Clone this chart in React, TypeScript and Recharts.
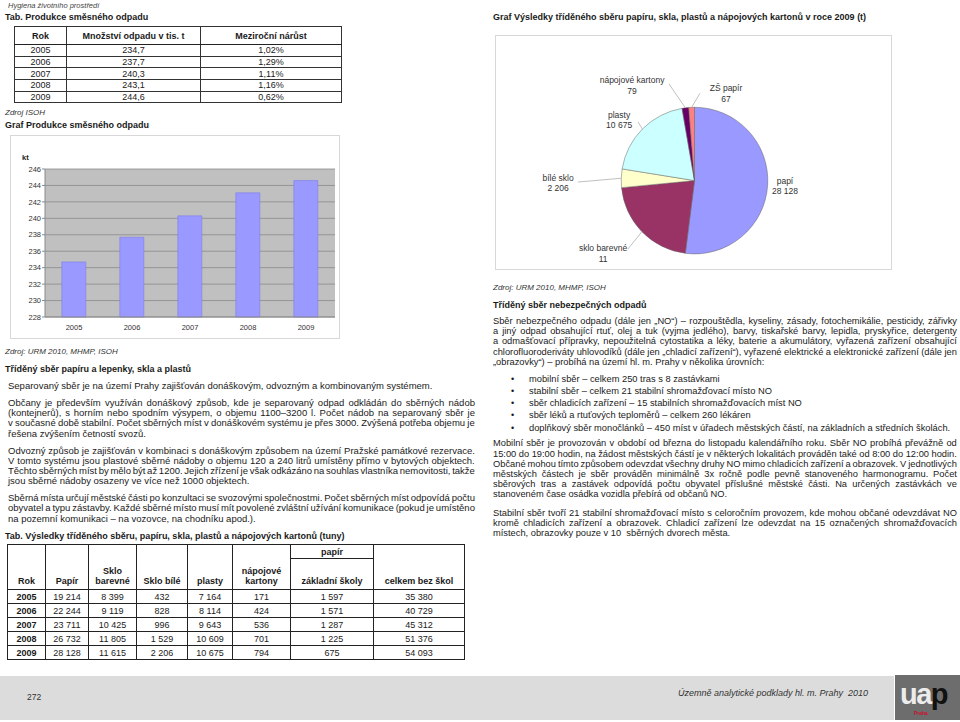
import React from "react";
import { BarChart, Bar, XAxis, YAxis, CartesianGrid, PieChart, Pie, Cell } from "recharts";

// směsný odpad (kt)
const years = ["2005", "2006", "2007", "2008", "2009"];
const mixedWaste = [234.7, 237.7, 240.3, 243.1, 244.6];
const mixedWasteText = ["234,7", "237,7", "240,3", "243,1", "244,6"];
const growth = ["1,02%", "1,29%", "1,11%", "1,16%", "0,62%"];
const wasteTicks = [228, 230, 232, 234, 236, 238, 240, 242, 244, 246];

// tříděný sběr 2009 (t)
const pieNames = ["papí", "sklo barevné", "bílé sklo", "plasty", "nápojové kartony", "ZŠ papír"];
const pieValues = [28128, 11615, 2206, 10675, 794, 675];
const pieValueLabels = ["28 128", "11", "2 206", "10 675", "79", "67"];
const pieColors = ["#9999ff", "#993366", "#ffffcc", "#ccffff", "#660066", "#ff8080"];

// tabulka tříděného sběru (tuny)
const papir = [19214, 22244, 23711, 26732, 28128];
const skloBarevne = [8399, 9119, 10425, 11805, 11615];
const skloBile = [432, 828, 996, 1529, 2206];
const plasty = [7164, 8114, 9643, 10609, 10675];
const kartony = [171, 424, 536, 701, 794];
const zakladniSkoly = [1597, 1571, 1287, 1225, 675];
const celkem = [35380, 40729, 45312, 51376, 54093];

const leftText = [
  ["Separovaný sběr je na území Prahy zajišťován donáškovým, odvozným a kombinovaným systémem."],
  [
    "Občany je především využíván donáškový způsob, kde je separovaný odpad odkládán do sběrných nádob",
    "(kontejnerů), s horním nebo spodním výsypem, o objemu 1100–3200 l. Počet nádob na separovaný sběr je",
    "v současné době stabilní. Počet sběrných míst v donáškovém systému je přes 3000. Zvýšená potřeba objemu je",
    "řešena zvýšením četností svozů.",
  ],
  [
    "Odvozný způsob je zajišťován v kombinaci s donáškovým způsobem na území Pražské památkové rezervace.",
    "V tomto systému jsou plastové sběrné nádoby o objemu 120 a 240 litrů umístěny přímo v bytových objektech.",
    "Těchto sběrných míst by mělo být až 1200. Jejich zřízení je však odkázáno na souhlas vlastníka nemovitosti, takže",
    "jsou sběrné nádoby osazeny ve více než 1000 objektech.",
  ],
  [
    "Sběrná místa určují městské části po konzultaci se svozovými společnostmi. Počet sběrných míst odpovídá počtu",
    "obyvatel a typu zástavby. Každé sběrné místo musí mít povolené zvláštní užívání komunikace (pokud je umístěno",
    "na pozemní komunikaci – na vozovce, na chodníku apod.).",
  ],
];

const rightIntro = [
  "Sběr nebezpečného odpadu (dále jen „NO“) – rozpouštědla, kyseliny, zásady, fotochemikálie, pesticidy, zářivky",
  "a jiný odpad obsahující rtuť, olej a tuk (vyjma jedlého), barvy, tiskařské barvy, lepidla, pryskyřice, detergenty",
  "a odmašťovací přípravky, nepoužitelná cytostatika a léky, baterie a akumulátory, vyřazená zařízení obsahující",
  "chlorofluoroderiváty uhlovodíků (dále jen „chladicí zařízení“), vyřazené elektrické a elektronické zařízení (dále jen",
  "„obrazovky“) – probíhá na území hl. m. Prahy v několika úrovních:",
];
const bullets = [
  "mobilní sběr – celkem 250 tras s 8 zastávkami",
  "stabilní sběr – celkem 21 stabilní shromažďovací místo NO",
  "sběr chladicích zařízení – 15 stabilních shromažďovacích míst NO",
  "sběr léků a rtuťových teploměrů – celkem 260 lékáren",
  "doplňkový sběr monočlánků – 450 míst v úřadech městských částí, na základních a středních školách.",
];
const rightMobile = [
  "Mobilní sběr je provozován v období od března do listopadu kalendářního roku. Sběr NO probíhá převážně od",
  "15:00 do 19:00 hodin, na žádost městských částí je v některých lokalitách prováděn také od 8:00 do 12:00 hodin.",
  "Občané mohou tímto způsobem odevzdat všechny druhy NO mimo chladicích zařízení a obrazovek. V jednotlivých",
  "městských částech je sběr prováděn minimálně 3x ročně podle pevně stanoveného harmonogramu. Počet",
  "sběrových tras a zastávek odpovídá počtu obyvatel příslušné městské části. Na určených zastávkách ve",
  "stanoveném čase osádka vozidla přebírá od občanů NO.",
];
const rightStable = [
  "Stabilní sběr tvoří 21 stabilní shromažďovací místo s celoročním provozem, kde mohou občané odevzdávat NO",
  "kromě chladicích zařízení a obrazovek. Chladicí zařízení lze odevzdat na 15 označených shromažďovacích",
  "místech, obrazovky pouze v 10  sběrných dvorech města.",
];

const barData = years.map((y, i) => ({ rok: y, kt: mixedWaste[i] }));
const pieData = pieNames.map((n, i) => ({ name: n, value: pieValues[i] }));

const FONT = '"Liberation Sans", Arial, Helvetica, sans-serif';
const LH = 10.2;

const fmt = (n: number) => String(n).replace(/\B(?=(\d{3})+(?!\d))/g, " ");

const T = ({ x, y, size = 9, bold = false, italic = false, color = "#1a1a1a", children }: any) => (
  <div
    style={{
      position: "absolute",
      left: x,
      top: y - size * 0.6,
      fontSize: size,
      lineHeight: `${size * 1.2}px`,
      fontWeight: bold ? "bold" : "normal",
      fontStyle: italic ? "italic" : "normal",
      color,
      whiteSpace: "pre",
    }}
  >
    {children}
  </div>
);

// each line justified on its own, the last line of a paragraph left aligned
const Para = ({ x, y, width, lines, size = 9.5, lh = LH }: any) => (
  <>
    {lines.map((ln: string, i: number) => {
      const last = i === lines.length - 1;
      const base: React.CSSProperties = {
        position: "absolute",
        left: x,
        top: y + i * lh - lh / 2,
        width,
        height: lh,
        lineHeight: `${lh}px`,
        fontSize: size,
        color: "#1a1a1a",
        whiteSpace: "pre",
      };
      if (last) return <div key={i} style={base}>{ln}</div>;
      return (
        <div key={i} style={{ ...base, display: "flex", justifyContent: "space-between" }}>
          {ln.split(" ").map((w, j) => (
            <span key={j}>{w}</span>
          ))}
        </div>
      );
    })}
  </>
);

// label placement around the pie: angle (deg, ccw from 3 o'clock) and distance from centre
const labelSpots: any[] = [
  { a: -3.2, r: 90.6 },
  { a: 218.4, r: 116.7, la: 225.8, lr: 95.4 },
  { a: 181, r: 136.5, la: 180.7, lr: 116.5 },
  { a: 141, r: 97, la: 133.9, lr: 81.4 },
  { a: 123.2, r: 114, la: 104.8, lr: 100 },
  { a: 70.2, r: 93, la: 86.4, lr: 87.5 },
];
const RAD = Math.PI / 180;
const polar = (cx: number, cy: number, r: number, deg: number) => ({
  x: cx + r * Math.cos(deg * RAD),
  y: cy - r * Math.sin(deg * RAD),
});

const renderPieLabel = (props: any) => {
  const { cx, cy, midAngle, outerRadius, index } = props;
  const s = labelSpots[index];
  const p = polar(cx, cy, s.r, s.a);
  let line = null;
  if (s.la != null) {
    const a = polar(cx, cy, outerRadius, midAngle);
    const b = polar(cx, cy, s.lr, s.la);
    line = <line x1={a.x} y1={a.y} x2={b.x} y2={b.y} stroke="#b0b0b0" strokeWidth={0.8} />;
  }
  return (
    <g key={"lbl" + index}>
      {line}
      <text x={p.x} y={p.y - 5} textAnchor="middle" dominantBaseline="central" fontSize={8.5} fill="#333" fontFamily={FONT}>
        {pieNames[index]}
      </text>
      <text x={p.x} y={p.y + 5.5} textAnchor="middle" dominantBaseline="central" fontSize={8.5} fill="#333" fontFamily={FONT}>
        {pieValueLabels[index]}
      </text>
    </g>
  );
};

const cell1: React.CSSProperties = { border: "1px solid #333", padding: 0, textAlign: "center" };
const cell2: React.CSSProperties = { border: "1px solid #222", padding: 0, textAlign: "center" };

export default function App() {
  return (
    <div
      style={{
        position: "absolute",
        left: 0,
        top: 0,
        width: 960,
        height: 722,
        overflow: "hidden",
        background: "#fff",
        fontFamily: FONT,
      }}
    >
      <T x={8} y={5} size={7.5} italic color="#444">Hygiena životního prostředí</T>
      <T x={5} y={17} bold>Tab. Produkce směsného odpadu</T>

      <table
        style={{
          position: "absolute",
          left: 14,
          top: 26,
          width: 327,
          borderCollapse: "collapse",
          tableLayout: "fixed",
          fontSize: 9,
          lineHeight: "10px",
          color: "#1a1a1a",
          border: "1.5px solid #222",
        }}
      >
        <colgroup>
          <col style={{ width: 52 }} />
          <col style={{ width: 134 }} />
          <col style={{ width: 141 }} />
        </colgroup>
        <thead>
          <tr style={{ height: 18 }}>
            <th style={{ ...cell1, borderBottom: "1.5px solid #222" }}>Rok</th>
            <th style={{ ...cell1, borderBottom: "1.5px solid #222" }}>Množství odpadu v tis. t</th>
            <th style={{ ...cell1, borderBottom: "1.5px solid #222" }}>Meziroční nárůst</th>
          </tr>
        </thead>
        <tbody>
          {years.map((y, i) => (
            <tr key={y} style={{ height: i === 4 ? 11 : 11.7 }}>
              <td style={cell1}>{y}</td>
              <td style={cell1}>{mixedWasteText[i]}</td>
              <td style={cell1}>{growth[i]}</td>
            </tr>
          ))}
        </tbody>
      </table>

      <T x={5} y={113} size={8} italic color="#333">Zdroj ISOH</T>
      <T x={5} y={125} bold>Graf Produkce směsného odpadu</T>

      <div
        style={{
          position: "absolute",
          left: 10,
          top: 135,
          width: 330,
          height: 204,
          border: "1px solid #d8d8d8",
          boxSizing: "border-box",
        }}
      >
        <div style={{ position: "absolute", left: 11, top: 17, fontSize: 7.5, fontWeight: "bold", color: "#222" }}>kt</div>
        <BarChart width={328} height={202} data={barData} margin={{ top: 33, right: 4, left: 0, bottom: 0 }} barCategoryGap="29%">
          <CartesianGrid horizontal vertical={false} fill="#c0c0c0" stroke="#8a8a8a" strokeWidth={0.8} />
          <XAxis
            dataKey="rok"
            height={21}
            axisLine={{ stroke: "#8a8a8a" }}
            tickLine={false}
            tick={{ fontSize: 7.5, fill: "#333", fontFamily: FONT }}
          />
          <YAxis
            width={34}
            domain={[228, 246]}
            ticks={wasteTicks}
            interval={0}
            tickSize={3}
            tickMargin={1}
            axisLine={{ stroke: "#8a8a8a" }}
            tickLine={{ stroke: "#8a8a8a" }}
            tick={{ fontSize: 7.5, fill: "#333", fontFamily: FONT }}
          />
          <Bar dataKey="kt" fill="#9999ff" stroke="#7d7de6" strokeWidth={0.6} isAnimationActive={false} />
        </BarChart>
      </div>

      <T x={5} y={352} size={8} italic color="#333">Zdroj: URM 2010, MHMP, ISOH</T>
      <T x={5} y={369} bold>Tříděný sběr papíru a lepenky, skla a plastů</T>
      <Para x={8} y={386} width={467} lines={leftText[0]} />
      <Para x={8} y={403} width={467} lines={leftText[1]} />
      <Para x={8} y={450.6} width={467} lines={leftText[2]} />
      <Para x={8} y={498.2} width={467} lines={leftText[3]} />

      <T x={5} y={536} bold>Tab. Výsledky tříděného sběru, papíru, skla, plastů a nápojových kartonů (tuny)</T>

      <table
        style={{
          position: "absolute",
          left: 7,
          top: 544,
          width: 457,
          borderCollapse: "collapse",
          tableLayout: "fixed",
          fontSize: 9,
          lineHeight: "10px",
          color: "#1a1a1a",
          border: "1.5px solid #222",
        }}
      >
        <colgroup>
          {[38, 43, 48, 51, 45, 58, 83, 91].map((w, i) => (
            <col key={i} style={{ width: w }} />
          ))}
        </colgroup>
        <thead>
          <tr style={{ height: 14 }}>
            {["Rok", "Papír", "Sklo\nbarevné", "Sklo bílé", "plasty", "nápojové\nkartony"].map((h) => (
              <th key={h} rowSpan={2} style={{ ...cell2, verticalAlign: "bottom", paddingBottom: 3, whiteSpace: "pre", borderBottom: "1.5px solid #222" }}>
                {h}
              </th>
            ))}
            <th style={{ ...cell2, verticalAlign: "middle" }}>papír</th>
            <th rowSpan={2} style={{ ...cell2, verticalAlign: "bottom", paddingBottom: 3, borderBottom: "1.5px solid #222" }}>
              celkem bez škol
            </th>
          </tr>
          <tr style={{ height: 31 }}>
            <th style={{ ...cell2, verticalAlign: "bottom", paddingBottom: 3, borderBottom: "1.5px solid #222" }}>základní školy</th>
          </tr>
        </thead>
        <tbody>
          {years.map((y, i) => (
            <tr key={y} style={{ height: 14.05 }}>
              <td style={{ ...cell2, fontWeight: "bold" }}>{y}</td>
              <td style={cell2}>{fmt(papir[i])}</td>
              <td style={cell2}>{fmt(skloBarevne[i])}</td>
              <td style={cell2}>{fmt(skloBile[i])}</td>
              <td style={cell2}>{fmt(plasty[i])}</td>
              <td style={cell2}>{fmt(kartony[i])}</td>
              <td style={cell2}>{fmt(zakladniSkoly[i])}</td>
              <td style={cell2}>{fmt(celkem[i])}</td>
            </tr>
          ))}
        </tbody>
      </table>

      <T x={493} y={17} bold>Graf Výsledky tříděného sběru papíru, skla, plastů a nápojových kartonů v roce 2009 (t)</T>

      <div
        style={{
          position: "absolute",
          left: 495,
          top: 35,
          width: 397,
          height: 235,
          border: "1px solid #d8d8d8",
          boxSizing: "border-box",
        }}
      >
        <PieChart width={395} height={233}>
          <Pie
            data={pieData}
            dataKey="value"
            nameKey="name"
            cx={193.5}
            cy={139.6}
            outerRadius={73.3}
            startAngle={90}
            endAngle={-270}
            stroke="#666"
            strokeWidth={0.5}
            label={renderPieLabel}
            labelLine={false}
            isAnimationActive={false}
          >
            {pieData.map((d, i) => (
              <Cell key={d.name} fill={pieColors[i]} />
            ))}
          </Pie>
        </PieChart>
      </div>

      <T x={493} y={288} size={8} italic color="#333">Zdroj: URM 2010, MHMP, ISOH</T>
      <T x={493} y={305} bold>Tříděný sběr nebezpečných odpadů</T>
      <Para x={493} y={321} width={464} size={9.3} lines={rightIntro} />
      {bullets.map((b, i) => (
        <React.Fragment key={b}>
          <div style={{ position: "absolute", left: 511, top: 378.5 + i * 12.3 - 6, fontSize: 9, lineHeight: "12px", color: "#1a1a1a" }}>•</div>
          <div style={{ position: "absolute", left: 529, top: 378.5 + i * 12.3 - 6, fontSize: 9.3, lineHeight: "12px", color: "#1a1a1a", whiteSpace: "nowrap" }}>
            {b}
          </div>
        </React.Fragment>
      ))}
      <Para x={493} y={443.5} width={464} size={9.3} lines={rightMobile} />
      <Para x={493} y={513} width={464} size={9.3} lines={rightStable} />

      <div style={{ position: "absolute", left: 0, top: 676, width: 894, height: 44, background: "#dcdcdc" }} />
      <T x={27} y={697} size={8.5} color="#333">272</T>
      <div
        style={{
          position: "absolute",
          right: 92,
          top: 688,
          fontSize: 9,
          lineHeight: "11px",
          fontStyle: "italic",
          color: "#333",
          whiteSpace: "pre",
        }}
      >
        Územně analytické podklady hl. m. Prahy  2010
      </div>
      <div style={{ position: "absolute", left: 895, top: 675, width: 65, height: 45, background: "#6d6d6d", overflow: "hidden" }}>
        <div style={{ position: "absolute", left: 5, top: 6, fontSize: 29, fontWeight: "bold", lineHeight: "26px", letterSpacing: -1.5 }}>
          <span style={{ color: "#ececec" }}>ua</span>
          <span style={{ color: "#111" }}>p</span>
        </div>
        <div style={{ position: "absolute", left: 19, top: 35, fontSize: 5, lineHeight: "6px", color: "#c8102e", fontWeight: "bold" }}>Praha</div>
      </div>
    </div>
  );
}
